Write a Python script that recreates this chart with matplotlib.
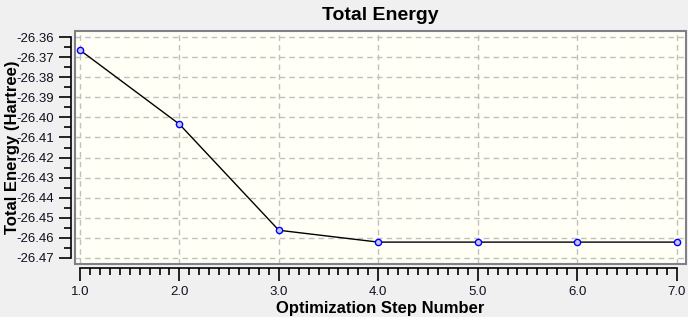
import matplotlib
matplotlib.use("Agg")
import matplotlib.pyplot as plt
from matplotlib.patches import Rectangle
from matplotlib.ticker import MultipleLocator, FormatStrFormatter

plt.rcParams['font.family'] = ['Liberation Sans', 'DejaVu Sans']

steps = [1, 2, 3, 4, 5, 6, 7]
energy = [-26.3665, -26.4034, -26.4562, -26.4621, -26.4621, -26.4621, -26.4621]
title = "Total Energy"
xlabel = "Optimization Step Number"
ylabel = "Total Energy (Hartree)"

W, H = 688, 317
fig = plt.figure(figsize=(W/100, H/100), dpi=100, facecolor='#f0f0f0')
ax = fig.add_axes([75/W, 1-264/H, (686-75)/W, (264-31)/H])
ax.set_facecolor('#fffff5')

ax.plot(steps, energy, color='black', lw=1.0, marker='o', ms=4.5,
        mfc='#c8c8ff', mec='#0000ff', mew=1.0, zorder=3)

ax.set_xlim(0.95, 7.095)
ax.set_ylim(-26.4730, -26.3570)

ax.xaxis.set_major_locator(MultipleLocator(1.0))
ax.xaxis.set_minor_locator(MultipleLocator(0.1))
ax.yaxis.set_major_locator(MultipleLocator(0.01))
ax.yaxis.set_minor_locator(MultipleLocator(0.005))
ax.xaxis.set_major_formatter(FormatStrFormatter('%.1f'))
ax.yaxis.set_major_formatter(FormatStrFormatter('%.2f'))

ax.grid(True, which='major', color='#c0c0c0', ls=(0, (4, 3)), lw=1.0)

for s in ['top', 'right']:
    ax.spines[s].set_visible(False)
ax.spines['left'].set_position(('outward', 3))
ax.spines['bottom'].set_position(('outward', 3))
ax.spines['left'].set_bounds(-26.47, -26.36)
ax.spines['bottom'].set_bounds(1.0, 7.0)
for s in ['left', 'bottom']:
    ax.spines[s].set_color('black')
    ax.spines[s].set_linewidth(1.2)

ax.add_patch(Rectangle((0, 0), 1, 1, transform=ax.transAxes, fill=False,
                       edgecolor='#808088', lw=1.5, clip_on=False, zorder=4))

ax.tick_params(axis='both', which='major', direction='out', length=9, width=1.2,
               labelsize=9.5, color='black', labelcolor='#101020')
ax.tick_params(axis='both', which='minor', direction='out', length=5, width=1.2,
               color='black')
ax.tick_params(axis='x', which='major', pad=4, labelsize=9.5)
ax.tick_params(axis='y', which='major', pad=3)

ax.set_title(title, fontsize=14, fontweight='bold', pad=8)
ax.set_xlabel(xlabel, fontsize=12, fontweight='bold', labelpad=2)
ax.set_ylabel(ylabel, fontsize=12, fontweight='bold')
ax.yaxis.set_label_coords(20/W, 1 - 147/H, transform=fig.transFigure)

fig.savefig('out.png', dpi=100, facecolor=fig.get_facecolor())
